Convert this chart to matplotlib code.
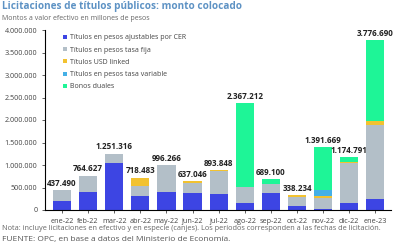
import matplotlib.pyplot as plt
import numpy as np

plt.rcParams['font.family'] = ['Open Sans', 'DejaVu Sans']

meses = ['ene-22', 'feb-22', 'mar-22', 'abr-22', 'may-22', 'jun-22', 'jul-22',
         'ago-22', 'sep-22', 'oct-22', 'nov-22', 'dic-22', 'ene-23']
totales = [437490, 764627, 1251316, 718483, 996266, 637046, 893848,
           2367212, 689100, 338234, 1391669, 1174791, 3776690]

cer = [200000, 407000, 1037000, 311000, 407000, 385000, 355000,
       150000, 385000, 90000, 20000, 150000, 237000]
fija = [237490, 357627, 214316, 230000, 589266, 212046, 509000,
        355000, 185000, 200000, 240000, 887000, 1652000]
usd = [0, 0, 0, 177483, 0, 40000, 29848,
       0, 0, 48234, 55000, 37000, 96000]
variable = [0, 0, 0, 0, 0, 0, 0,
            0, 0, 0, 129000, 0, 0]
duales = [0, 0, 0, 0, 0, 0, 0,
          1862212, 119100, 0, 947669, 100791, 1791690]

series = [
    ('Títulos en pesos ajustables por CER', cer, '#3d45e3'),
    ('Títulos en pesos tasa fija', fija, '#b3bfc8'),
    ('Títulos USD linked', usd, '#f2c230'),
    ('Títulos en pesos tasa variable', variable, '#45b0e6'),
    ('Bonos duales', duales, '#1ef597'),
]

fig = plt.figure(figsize=(4, 2.5), dpi=100)
ax = fig.add_axes([0.1125, 0.16, 0.865, 0.72])

x = np.arange(len(meses))
base = np.zeros(len(meses))
for nombre, vals, color in series:
    ax.bar(x, vals, bottom=base, width=0.7, color=color, label=nombre)
    base += np.array(vals)

# etiquetas con el total arriba de cada barra
for xi, t in zip(x, totales):
    etiqueta = f'{t:,}'.replace(',', '.')
    ax.text(xi, t + 50000, etiqueta, ha='center', va='bottom',
            fontsize=5.8, fontweight='bold', color='#222222')

ax.set_ylim(0, 4000000)
ax.set_xlim(-0.65, len(meses) - 0.4)
ticks_y = np.arange(0, 4000001, 500000)
ax.set_yticks(ticks_y)
ax.set_yticklabels([f'{int(v):,}'.replace(',', '.') for v in ticks_y])
ax.set_xticks(x)
ax.set_xticklabels(meses)
ax.tick_params(axis='both', labelsize=5.2, colors='#444444', length=2, width=0.6)
for s in ['top', 'right']:
    ax.spines[s].set_visible(False)
ax.spines['left'].set_linewidth(0.8)
ax.spines['bottom'].set_linewidth(0.8)

ax.legend(loc='upper left', bbox_to_anchor=(0.035, 1.01), frameon=False, fontsize=5.0,
          handlelength=0.5, handleheight=0.5, handletextpad=0.4, labelspacing=0.75,
          labelcolor='#444444')

fig.text(0.005, 0.995, 'Licitaciones de títulos públicos: monto colocado',
         fontsize=7.2, fontweight='bold', color='#5d92c4', va='top')
fig.text(0.005, 0.94, 'Montos a valor efectivo en millones de pesos',
         fontsize=5, color='#666666', va='top')
fig.text(0.005, 0.085, 'Nota: incluye licitaciones en efectivo y en especie (canjes). '
         'Los períodos corresponden a las fechas de licitación.',
         fontsize=5.3, color='#666666', va='center')
fig.text(0.005, 0.04, 'FUENTE: OPC, en base a datos del Ministerio de Economía.',
         fontsize=6, color='#555555', va='center')

fig.savefig('out.png', dpi=100)
